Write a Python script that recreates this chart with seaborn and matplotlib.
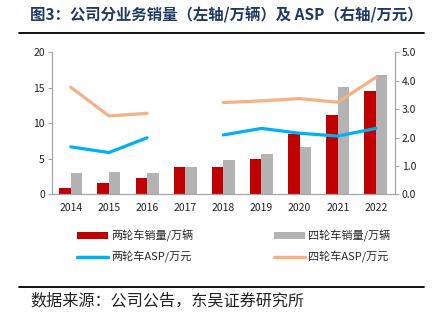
import numpy as np
import pandas as pd
import matplotlib
matplotlib.use("Agg")
import matplotlib.pyplot as plt
import seaborn as sns
from matplotlib.patches import Patch
from matplotlib.lines import Line2D
from matplotlib.ticker import FormatStrFormatter, FixedLocator

years = ["2014", "2015", "2016", "2017", "2018", "2019", "2020", "2021", "2022"]
two_wheel_sales = [0.93, 1.63, 2.34, 3.8, 3.8, 4.97, 8.45, 11.17, 14.6]
four_wheel_sales = [2.96, 3.18, 2.96, 3.8, 4.83, 5.63, 6.7, 15.07, 16.8]
two_wheel_asp = [1.67, 1.47, 1.99, np.nan, 2.09, 2.32, 2.15, 2.05, 2.32]
four_wheel_asp = [3.77, 2.76, 2.85, np.nan, 3.23, 3.29, 3.37, 3.24, 4.12]

lbl_2s = "两轮车销量/万辆"
lbl_4s = "四轮车销量/万辆"
lbl_2a = "两轮车ASP/万元"
lbl_4a = "四轮车ASP/万元"

RED = "#C00000"
GREY = "#B3B3B3"
BLUE = "#00B0F0"
ORANGE = "#F4B183"
AXC = "#A6A6A6"

sns.set_style("white")
plt.rcParams["font.family"] = ["Noto Sans CJK SC", "DejaVu Sans"]

fig = plt.figure(figsize=(4.39, 3.24), dpi=100)
ax = fig.add_axes([51.7 / 439, 1 - 194.3 / 324, (395 - 51.7) / 439, (194.3 - 52.3) / 324])

bar_df = pd.DataFrame({
    "year": years * 2,
    "value": two_wheel_sales + four_wheel_sales,
    "series": [lbl_2s] * len(years) + [lbl_4s] * len(years),
})
sns.barplot(data=bar_df, x="year", y="value", hue="series", order=years,
            hue_order=[lbl_2s, lbl_4s], palette=[RED, GREY], width=0.6,
            gap=0.0, ax=ax, legend=False, saturation=1, linewidth=0)
ax.set_xlim(-0.5, len(years) - 0.5)
ax.set_ylim(0, 20)
ax.set_yticks([0, 5, 10, 15, 20])
ax.set_xlabel("")
ax.set_ylabel("")

ax2 = ax.twinx()
pos = list(range(len(years)))
line_df = pd.DataFrame({"pos": pos, "a2": two_wheel_asp, "a4": four_wheel_asp})
for seg in (line_df.iloc[0:3], line_df.iloc[4:9]):
    sns.lineplot(data=seg, x="pos", y="a4", ax=ax2, color=ORANGE, linewidth=2.3)
    sns.lineplot(data=seg, x="pos", y="a2", ax=ax2, color=BLUE, linewidth=2.3)
ax2.set_ylim(0, 5)
ax2.set_yticks([0, 1, 2, 3, 4, 5])
ax2.yaxis.set_major_formatter(FormatStrFormatter("%.1f"))
ax2.set_xlim(-0.5, len(years) - 0.5)
ax2.set_xlabel("")
ax2.set_ylabel("")

for a in (ax, ax2):
    a.spines["top"].set_visible(False)
    for s in ("left", "right", "bottom"):
        a.spines[s].set_color(AXC)
        a.spines[s].set_linewidth(0.9)
    a.tick_params(axis="y", labelsize=7.5, colors=AXC, labelcolor="#222222",
                  length=3, width=0.8, direction="out", pad=2)
ax.spines["right"].set_visible(False)
ax2.spines["left"].set_visible(False)
ax2.spines["bottom"].set_visible(False)
ax.tick_params(axis="y", left=True)
ax2.tick_params(axis="y", right=True)

ax.tick_params(axis="x", which="major", length=0, labelsize=7.5, labelcolor="#222222", pad=6)
ax.xaxis.set_minor_locator(FixedLocator(np.arange(-0.5, len(years), 1.0)))
ax.tick_params(axis="x", which="minor", length=3, width=0.8, color=AXC, direction="out")

# title and decorations
fig.text(30 / 439, 1 - 15 / 324, "图3：公司分业务销量（左轴/万辆）及 ASP（右轴/万元）",
         fontsize=11.1, fontweight="bold", color="#1F3864", ha="left", va="center")
fig.add_artist(Line2D([19 / 439, 424 / 439], [1 - 33 / 324, 1 - 33 / 324],
                      color="black", linewidth=1.3, transform=fig.transFigure))
fig.add_artist(Line2D([19 / 439, 424 / 439], [1 - 286.7 / 324, 1 - 286.7 / 324],
                      color="black", linewidth=1.3, transform=fig.transFigure))
fig.text(30 / 439, 1 - 301 / 324, "数据来源：公司公告，东吴证券研究所",
         fontsize=11.6, color="#222222", ha="left", va="center")

handles = [Patch(facecolor=RED, edgecolor="none"),
           Line2D([0], [0], color=BLUE, linewidth=2.5),
           Patch(facecolor=GREY, edgecolor="none"),
           Line2D([0], [0], color=ORANGE, linewidth=2.5)]
labels = [lbl_2s, lbl_2a, lbl_4s, lbl_4a]
fig.legend(handles, labels, ncol=2, loc="center", bbox_to_anchor=(0.533, 1 - 246.5 / 324),
           frameon=False, fontsize=8, handlelength=2.8, handleheight=0.6,
           handletextpad=0.3, columnspacing=7.2, labelspacing=0.8)

fig.savefig("out.png", dpi=100)
